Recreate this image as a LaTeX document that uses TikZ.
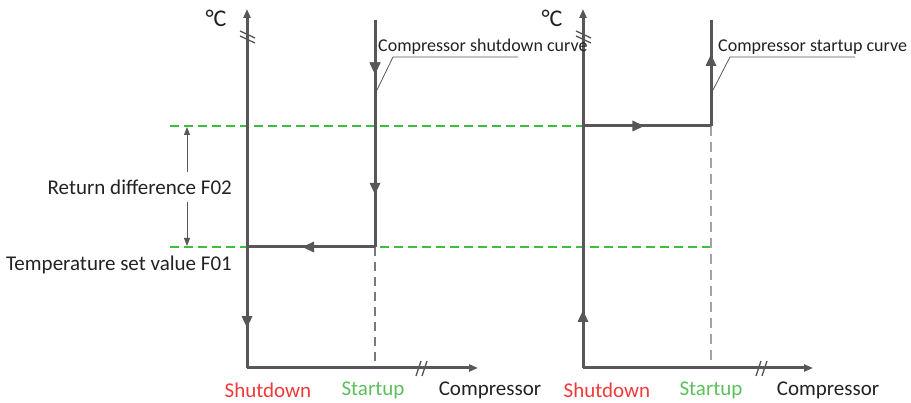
\documentclass[tikz,border=0pt]{standalone}
\usepackage{fontspec}
\setmainfont{Carlito}
\usetikzlibrary{arrows.meta,decorations.markings}
\definecolor{ln}{HTML}{575757}
\definecolor{gd}{HTML}{3DBE3D}
\definecolor{rd}{HTML}{F03A3A}
\definecolor{gt}{HTML}{5CBF5C}
\definecolor{tx}{HTML}{222222}
\tikzset{
  axis/.style={draw=ln, line width=3pt, -{Triangle[length=9pt,width=7pt]}},
  curve/.style={draw=ln, line width=3pt, line join=miter},
  brk/.style={draw=ln, line width=1.3pt},
  gdash/.style={draw=gd, line width=1.2pt, dash pattern=on 9pt off 5pt},
  vdash/.style={draw=ln!80, line width=1.1pt, dash pattern=on 9pt off 6pt},
  vdashl/.style={draw=ln!55, line width=1.7pt, dash pattern=on 10pt off 6pt},
  lead/.style={draw=ln, line width=0.8pt},
  lbl/.style={font=\fontsize{21}{23}\selectfont, text=tx, inner sep=0pt},
  slbl/.style={font=\fontsize{18}{20}\selectfont, text=tx, inner sep=0pt},
  deg/.style={font=\fontsize{24}{26}\selectfont, text=tx, inner sep=0pt},
  marr/.style={postaction={decorate}, decoration={markings, mark=at position #1 with {\arrow{Triangle[length=12pt,width=10pt]}}}},
  dim/.style={draw=ln, line width=0.9pt, -{Triangle[length=8pt,width=6pt]}}
}
\begin{document}
\begin{tikzpicture}[x=1pt,y=-1pt]
\useasboundingbox (0,0) rectangle (911,403);
% coordinates
\coordinate (O1) at (247,368);
\coordinate (T1) at (247,9);
\coordinate (X1) at (478,368);
\coordinate (O2) at (583,368);
\coordinate (T2) at (583,9);
\coordinate (X2) at (813,368);
\coordinate (S0) at (375,20);
\coordinate (S1) at (375,247);
\coordinate (S2) at (247,247);
\coordinate (U1) at (583,126);
\coordinate (U2) at (711,126);
\coordinate (U3) at (711,20);
\coordinate (Sb) at (375,368);
\coordinate (Ub) at (711,368);
% green dashed levels
\coordinate (G1a) at (170,126);
\coordinate (G2a) at (170,247);
\coordinate (G2b) at (711,247);
\draw[gdash] (G1a) -- (U1);
\draw[gdash] (G2a) -- (G2b);
% grey dashed verticals
\draw[vdash] (S1) -- (Sb);
\draw[vdashl] (U2) -- (Ub);
% axes
\draw[axis] (O1) -- (T1);
\draw[axis] (O1) -- (X1);
\draw[axis] (O2) -- (T2);
\draw[axis] (O2) -- (X2);
% axis breaks
\draw[brk] (240,31) -- (255,38) (240,36) -- (255,43);
\draw[brk] (576,31) -- (591,38) (576,36) -- (591,43);
\draw[brk] (416,376) -- (421,361) (422,376) -- (427,361);
\draw[brk] (756,376) -- (761,361) (762,376) -- (767,361);
% shutdown curve
\draw[curve, marr=0.24, postaction={decorate, decoration={markings, mark=at position 0.77 with {\arrow{Triangle[length=12pt,width=10pt]}}}}] (S0) -- (S1);
\draw[curve, marr=0.57] (S1) -- (S2);
\draw[curve, marr=0.67] (S2) -- (O1);
% startup curve
\draw[curve, marr=0.24] (O2) -- (U1);
\draw[curve, marr=0.48] (U1) -- (U2);
\draw[curve, marr=0.68] (U2) -- (U3);
% degree labels
\node[deg] (dc1) at (216,18) {°C};
\node[deg] (dc2) at (552,18) {°C};
% curve labels with leaders
\node[slbl, anchor=west] (lsd) at (378,47) {Compressor shutdown curve};
\node[slbl, anchor=west] (lsu) at (718,47) {Compressor startup curve};
\coordinate (L1a) at (377,90);
\coordinate (L1b) at (393,57);
\coordinate (L1c) at (518,57);
\draw[lead] (L1a) -- (L1b) -- (L1c);
\coordinate (L2a) at (713,90);
\coordinate (L2b) at (730,57);
\coordinate (L2c) at (855,57);
\draw[lead] (L2a) -- (L2b) -- (L2c);
% return difference
\node[lbl, anchor=east] (rd) at (232,187) {Return difference F02};
\node[lbl, anchor=east] (ts) at (232,265) {Temperature set value F01};
\coordinate (D1) at (187,172);
\coordinate (D1t) at (187,127);
\coordinate (D2) at (187,202);
\coordinate (D2t) at (187,246);
\draw[dim] (D1) -- (D1t);
\draw[dim] (D2) -- (D2t);
% bottom labels
\node[lbl, text=rd] (sd1) at (268,390) {Shutdown};
\node[lbl, text=gt] (st1) at (373,390) {Startup};
\node[lbl] (cp1) at (490,390) {Compressor};
\node[lbl, text=rd] (sd2) at (607,390) {Shutdown};
\node[lbl, text=gt] (st2) at (711,390) {Startup};
\node[lbl] (cp2) at (828,390) {Compressor};
\end{tikzpicture}
\end{document}
